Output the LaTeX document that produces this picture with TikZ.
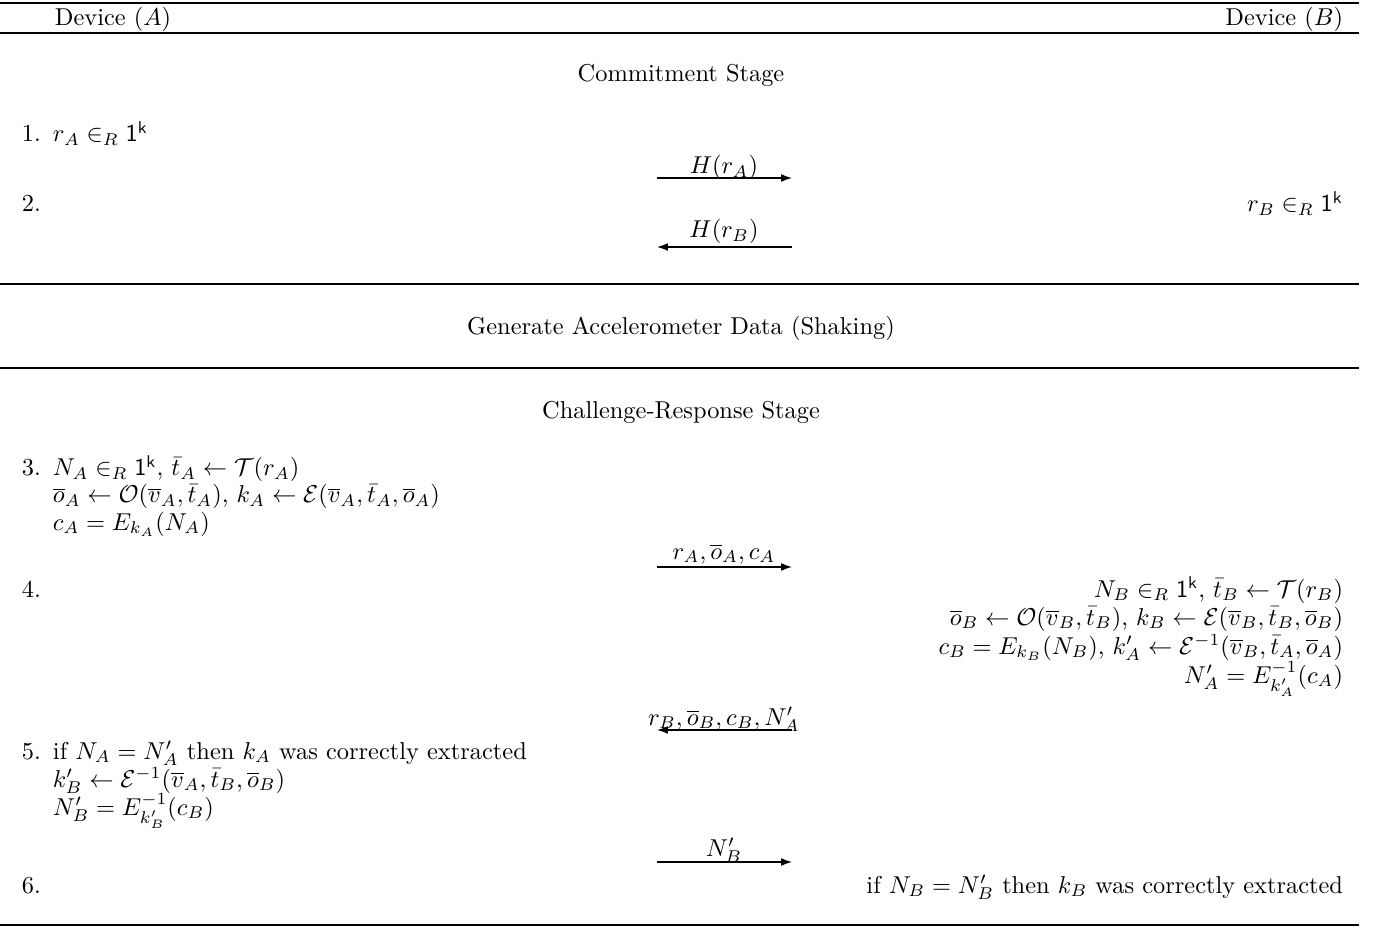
\documentclass[tikz,border=0pt]{standalone}
\usepackage{amsmath,amssymb}
\usetikzlibrary{arrows.meta}
\newcommand{\onek}{\mathsf{1}^{\mathsf{k}}}
\begin{document}
\begin{tikzpicture}[x=0.41pt,y=-0.41pt,
  every node/.style={inner sep=0pt, outer sep=0pt},
  rulel/.style={line width=0.6pt},
  msg/.style={-{Latex[length=4.5pt,width=3.2pt]}, line width=0.5pt},
  lt/.style={anchor=base west},
  rt/.style={anchor=base east},
  ct/.style={anchor=base}]
\useasboundingbox (0,0) rectangle (1382,928);
% rules
\coordinate (r0a) at (0,3);   \coordinate (r0b) at (1359,3);
\coordinate (r1a) at (0,33);  \coordinate (r1b) at (1359,33);
\coordinate (r2a) at (0,284); \coordinate (r2b) at (1359,284);
\coordinate (r3a) at (0,368); \coordinate (r3b) at (1359,368);
\coordinate (r4a) at (0,925); \coordinate (r4b) at (1359,925);
\foreach \i in {0,...,4} \draw[rulel] (r\i a) -- (r\i b);
% header
\node[lt] (devA) at (55,26) {Device $(A)$};
\node[rt] (devB) at (1343,26) {Device $(B)$};
% commitment
\node[ct] (commit) at (681,82) {Commitment Stage};
\node[lt] (n1) at (22,142) {1.};
\node[lt] (s1) at (53,142) {$r_A \in_R \onek$};
\node[ct] (m1) at (724,174) {$H(r_A)$};
\coordinate (m1s) at (657,178); \coordinate (m1e) at (792,178);
\draw[msg] (m1s) -- (m1e);
\node[lt] (n2) at (22,212) {2.};
\node[rt] (s2) at (1343,212) {$r_B \in_R \onek$};
\node[ct] (m2) at (724,238) {$H(r_B)$};
\coordinate (m2s) at (792,247); \coordinate (m2e) at (657,247);
\draw[msg] (m2s) -- (m2e);
% shaking
\node[ct] (shake) at (681,335) {Generate Accelerometer Data (Shaking)};
% challenge-response
\node[ct] (chal) at (681,419) {Challenge-Response Stage};
\node[lt] (n3) at (22,476) {3.};
\node[lt] (s3a) at (53,476) {$N_A \in_R \onek$, $\bar{t}_A \leftarrow \mathcal{T}(r_A)$};
\node[lt] (s3b) at (53,503) {$\overline{o}_A \leftarrow \mathcal{O}(\overline{v}_A,\bar{t}_A)$, $k_A \leftarrow \mathcal{E}(\overline{v}_A,\bar{t}_A,\overline{o}_A)$};
\node[lt] (s3c) at (53,530) {$c_A = E_{k_A}(N_A)$};
\node[ct] (m3) at (724,559) {$r_A,\overline{o}_A,c_A$};
\coordinate (m3s) at (657,567); \coordinate (m3e) at (792,567);
\draw[msg] (m3s) -- (m3e);
\node[lt] (n4) at (22,597) {4.};
\node[rt] (s4a) at (1343,597) {$N_B \in_R \onek$, $\bar{t}_B \leftarrow \mathcal{T}(r_B)$};
\node[rt] (s4b) at (1343,625) {$\overline{o}_B \leftarrow \mathcal{O}(\overline{v}_B,\bar{t}_B)$, $k_B \leftarrow \mathcal{E}(\overline{v}_B,\bar{t}_B,\overline{o}_B)$};
\node[rt] (s4c) at (1343,654) {$c_B = E_{k_B}(N_B)$, $k'_A \leftarrow \mathcal{E}^{-1}(\overline{v}_B,\bar{t}_A,\overline{o}_A)$};
\node[rt] (s4d) at (1343,683) {$N'_A = E^{-1}_{k'_A}(c_A)$};
\node[ct] (m4) at (724,725) {$r_B,\overline{o}_B,c_B,N'_A$};
\coordinate (m4s) at (792,730); \coordinate (m4e) at (657,730);
\draw[msg] (m4s) -- (m4e);
\node[lt] (n5) at (22,759) {5.};
\node[lt] (s5a) at (53,759) {if $N_A = N'_A$ then $k_A$ was correctly extracted};
\node[lt] (s5b) at (53,787) {$k'_B \leftarrow \mathcal{E}^{-1}(\overline{v}_A,\bar{t}_B,\overline{o}_B)$};
\node[lt] (s5c) at (53,815) {$N'_B = E^{-1}_{k'_B}(c_B)$};
\node[ct] (m5) at (724,856) {$N'_B$};
\coordinate (m5s) at (657,862); \coordinate (m5e) at (792,862);
\draw[msg] (m5s) -- (m5e);
\node[lt] (n6) at (22,893) {6.};
\node[rt] (s6) at (1343,893) {if $N_B = N'_B$ then $k_B$ was correctly extracted};
\end{tikzpicture}
\end{document}
